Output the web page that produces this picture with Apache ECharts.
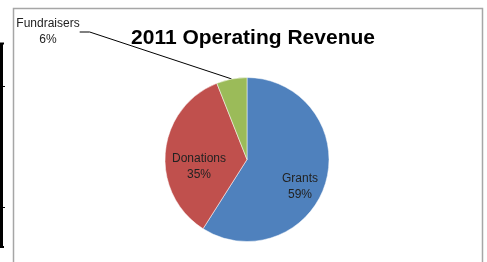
<!DOCTYPE html>
<html>
<head>
<meta charset="utf-8">
<script src="https://cdn.jsdelivr.net/npm/echarts@6/dist/echarts.min.js"></script>
<style>
html,body{margin:0;padding:0;background:#fff;}
#chart{width:487px;height:262px;}
</style>
</head>
<body>
<div id="chart"></div>
<script>
var categories = ['Grants', 'Donations', 'Fundraisers'];
var revenue = [59, 35, 6];
var sliceColors = ['#4f81bd', '#c0504d', '#9bbb59'];
var chartTitle = '2011 Operating Revenue';

// where excel parked the labels (label centres)
var labelSpots = [[300, 187], [199, 167], [48, 32]];

var myChart = echarts.init(document.getElementById('chart'));
var option = {
	animation: false,
	title: {
		text: chartTitle,
		left: 248,
		top: 23,
		textAlign: 'center',
		textStyle: {
			fontFamily: 'Liberation Sans',
			fontWeight: 'bold',
			fontSize: 21,
			color: '#000'
		}
	},
	graphic: [
		// grey chart frame
		{ type: 'rect', shape: { x: 13.5, y: 8.5, width: 469, height: 270 },
		  style: { fill: 'none', stroke: '#a6a6a6', lineWidth: 1.5 }, silent: true },
		// black cell borders at the left edge
		{ type: 'line', shape: { x1: 1.5, y1: 43, x2: 1.5, y2: 248 }, style: { stroke: '#000', lineWidth: 3 } },
		{ type: 'line', shape: { x1: 0, y1: 43.5, x2: 4, y2: 43.5 }, style: { stroke: '#000', lineWidth: 2 } },
		{ type: 'line', shape: { x1: 0, y1: 247, x2: 4, y2: 247 }, style: { stroke: '#000', lineWidth: 2 } },
		{ type: 'line', shape: { x1: 0, y1: 86.5, x2: 5, y2: 86.5 }, style: { stroke: '#000', lineWidth: 1 } },
		{ type: 'line', shape: { x1: 0, y1: 207.5, x2: 5, y2: 207.5 }, style: { stroke: '#000', lineWidth: 1 } }
	],
	series: [{
		type: 'pie',
		center: [247, 159.5],
		radius: 82,
		startAngle: 90,
		clockwise: true,
		avoidLabelOverlap: false,
		itemStyle: { borderColor: '#fff', borderWidth: 0.5 },
		label: {
			position: 'inside',
			formatter: '{b}\n{d}%',
			fontFamily: 'Liberation Sans',
			fontSize: 12,
			lineHeight: 16,
			color: '#222',
			align: 'center'
		},
		labelLine: { show: false },
		labelLayout: function(params){
			var p = labelSpots[params.dataIndex];
			return { x: p[0], y: p[1], align: 'center', verticalAlign: 'middle' };
		},
		data: categories.map(function(name, i){
			var item = { name: name, value: revenue[i], itemStyle: { color: sliceColors[i] } };
			if (name == 'Fundraisers') {
				item.label = { position: 'outside' };
				item.labelLine = { show: true, length: 10, length2: 10, lineStyle: { color: '#000', width: 1 } };
			}
			return item;
		})
	}]
};
myChart.setOption(option);
</script>
</body>
</html>
